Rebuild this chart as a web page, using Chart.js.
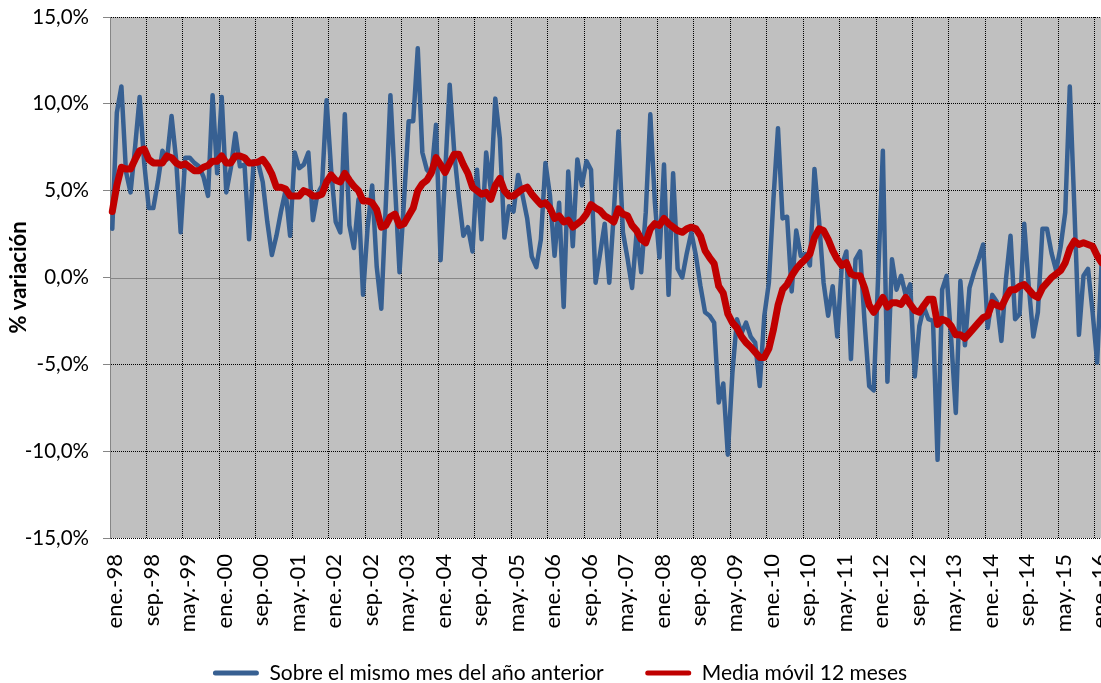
<!DOCTYPE html>
<html>
<head>
<meta charset="utf-8">
<script src="https://cdn.jsdelivr.net/npm/chart.js@4.4.1/dist/chart.umd.min.js"></script>
<style>
  html, body { margin: 0; padding: 0; background: #fff; overflow: hidden; }
  #wrap { width: 1101px; height: 683px; overflow: hidden; }
  #c { display: block; }
</style>
</head>
<body>
<div id="wrap"><canvas id="c" width="1112" height="683"></canvas></div>
<script>
// ---- Data ----
const monthNames = ['ene.', 'feb.', 'mar.', 'abr.', 'may.', 'jun.', 'jul.', 'ago.', 'sep.', 'oct.', 'nov.', 'dic.'];
const startYear = 1998;
const monthCount = 218; // ene.-98 .. feb.-16

const seriesNames = ['Sobre el mismo mes del año anterior', 'Media móvil 12 meses'];

const sobreMismoMes = [
  2.8, 9.5, 11.0, 6.1, 4.9, 7.5, 10.4, 6.6, 4.0, 4.0, 5.5, 7.3,
  6.8, 9.3, 6.8, 2.6, 6.9, 6.9, 6.6, 6.4, 5.8, 4.7, 10.5, 6.0,
  10.4, 4.9, 6.3, 8.3, 6.4, 6.5, 2.2, 6.7, 6.6, 5.5, 3.2, 1.3,
  2.4, 3.8, 5.0, 2.4, 7.2, 6.3, 6.5, 7.2, 3.3, 4.8, 5.3, 10.2,
  6.2, 3.2, 2.6, 9.4, 3.0, 1.7, 4.5, -1.0, 2.9, 5.3, 0.6, -1.8,
  4.3, 10.5, 5.3, 0.3, 4.5, 9.0, 9.0, 13.2, 7.2, 6.2, 5.9, 8.8,
  1.0, 6.0, 11.1, 7.2, 4.6, 2.4, 2.9, 1.5, 6.2, 2.2, 7.2, 5.1,
  10.3, 8.0, 2.3, 4.1, 3.8, 5.9, 4.7, 3.4, 1.2, 0.6, 2.2, 6.6,
  4.7, 1.25, 4.3, -1.7, 6.1, 1.8, 6.8, 5.3, 6.7, 6.2, -0.3, 1.4,
  3.1, -0.3, 3.75, 8.4, 2.6, 1.1, -0.6, 2.6, 0.3, 3.75, 9.4, 4.3,
  1.15, 6.5, -1.0, 6.0, 0.5, 0.0, 1.4, 2.6, 1.25, -0.5, -2.0, -2.2,
  -2.6, -7.2, -6.1, -10.2, -5.5, -2.4, -3.2, -2.6, -3.4, -3.75, -6.25, -2.2,
  -0.3, 4.5, 8.6, 3.4, 3.5, -0.8, 2.7, 1.25, 1.35, 0.7, 6.25, 3.3,
  -0.3, -2.2, -0.5, -3.4, 0.7, 1.5, -4.7, 1.05, 1.5, -2.6, -6.25, -6.5,
  0.3, 7.3, -6.0, 1.05, -0.7, 0.1, -1.0, -0.4, -5.7, -2.8, -1.7, -2.4,
  -2.5, -10.5, -0.7, 0.1, -3.6, -7.8, -0.2, -3.9, -0.6, 0.3, 1.05, 1.9,
  -2.9, -1.0, -1.4, -3.65, -0.1, 2.4, -2.4, -2.1, 3.1, -0.5, -3.4, -2.0,
  2.8, 2.8, 1.4, 0.4, 1.8, 3.75, 11.0, 4.0, -3.3, 0.1, 0.5, -2.0,
  -4.9, 1.0
];

const mediaMovil12 = [
  3.8, 5.3, 6.35, 6.25, 6.25, 6.8, 7.3, 7.4, 6.8, 6.6, 6.6, 6.6,
  7.0, 6.9, 6.6, 6.45, 6.55, 6.35, 6.15, 6.15, 6.35, 6.45, 6.7, 6.7,
  7.0, 6.6, 6.6, 7.0, 7.0, 6.9, 6.6, 6.6, 6.65, 6.8, 6.45, 5.95,
  5.2, 5.2, 5.1, 4.7, 4.7, 4.7, 5.0, 4.9, 4.7, 4.7, 4.8, 5.5,
  5.9, 5.6, 5.5, 6.0, 5.6, 5.25, 5.0, 4.4, 4.4, 4.3, 3.9, 2.9,
  3.0, 3.5, 3.65, 3.0, 3.1, 3.55, 4.0, 5.0, 5.4, 5.6, 6.05, 6.9,
  6.5, 6.05, 6.6, 7.1, 7.1, 6.5, 6.0, 5.2, 5.0, 4.8, 4.9, 4.5,
  5.3, 5.7, 5.0, 4.7, 4.7, 4.9, 5.1, 5.2, 4.8, 4.5, 4.2, 4.3,
  4.0, 3.4, 3.55, 3.2, 3.3, 2.9, 3.1, 3.3, 3.65, 4.2, 4.0, 3.85,
  3.55, 3.4, 3.2, 3.95, 3.65, 3.55, 3.0, 2.7, 2.2, 2.0, 2.8, 3.1,
  3.0, 3.4, 3.1, 2.9, 2.7, 2.6, 2.8, 2.9, 2.8, 2.4, 1.55, 1.15,
  0.8, -0.5, -0.9, -2.1, -2.6, -2.9, -3.4, -3.75, -4.0, -4.3, -4.6, -4.6,
  -4.1, -3.0, -1.6, -0.7, -0.4, 0.1, 0.5, 0.8, 1.05, 1.35, 2.3, 2.8,
  2.7, 2.2, 1.55, 1.05, 0.7, 0.85, 0.2, 0.1, 0.1, -0.6, -1.6, -2.0,
  -1.6, -1.15, -1.7, -1.45, -1.45, -1.55, -1.15, -1.55, -1.9, -2.0, -1.6, -1.25,
  -1.25, -2.7, -2.4, -2.5, -2.8, -3.3, -3.3, -3.5, -3.2, -2.9, -2.6, -2.3,
  -2.2, -1.45, -1.6, -1.7, -1.15, -0.7, -0.7, -0.5, -0.4, -0.7, -1.0, -1.15,
  -0.6, -0.3, 0.0, 0.2, 0.4, 0.85, 1.65, 2.1, 1.9, 2.0, 1.9, 1.8,
  1.25, 0.85
];

const yTicks = [-15, -10, -5, 0, 5, 10, 15];
const labelEvery = 8;

// categories: "ene.-98", "feb.-98", ...
const categories = [];
for (let i = 0; i < monthCount; i++) {
  const m = i % 12;
  const y = (startYear + Math.floor(i / 12)) % 100;
  categories.push(monthNames[m] + '-' + String(y).padStart(2, '0'));
}

const FONT = 'Lato, "Open Sans", "DejaVu Sans", sans-serif';
const LEGEND_FONT_SIZE = 21;
const LEGEND_PADDING = 41.5;

const plotBg = {
  id: 'plotBg',
  beforeDraw(chart) {
    const {ctx, chartArea: a} = chart;
    ctx.save();
    ctx.fillStyle = '#C0C0C0';
    ctx.fillRect(a.left, a.top, a.right - a.left, a.bottom - a.top);
    ctx.restore();
  },
  beforeDatasetsDraw(chart) {
    const {ctx, chartArea: a, scales: {y}} = chart;
    const py = Math.round(y.getPixelForValue(0)) + 0.5;
    ctx.save();
    ctx.strokeStyle = '#868686';
    ctx.lineWidth = 1.2;
    ctx.beginPath();
    ctx.moveTo(a.left, py);
    ctx.lineTo(a.right, py);
    ctx.stroke();
    ctx.restore();
  }
};

// places the legend row where the reference has it
const legendNudge = {
  id: 'legendNudge',
  afterLayout(chart) {
    const l = chart.legend;
    if (!l) return;
    const dx = 8;
    const rowCenter = 673;
    l.left += dx; l.right += dx;
    l.top = rowCenter - LEGEND_PADDING - LEGEND_FONT_SIZE / 2;
    l.bottom = chart.height;
    l.height = l.bottom - l.top;
  }
};

new Chart(document.getElementById('c'), {
  type: 'line',
  data: {
    labels: categories,
    datasets: [
      {
        label: seriesNames[0],
        data: sobreMismoMes,
        borderColor: '#376092',
        backgroundColor: '#376092',
        borderWidth: 4.5,
        pointRadius: 0,
        tension: 0,
        borderJoinStyle: 'round',
        borderCapStyle: 'round',
        order: 1
      },
      {
        label: seriesNames[1],
        data: mediaMovil12,
        borderColor: '#C00000',
        backgroundColor: '#C00000',
        borderWidth: 7,
        pointRadius: 0,
        tension: 0,
        borderJoinStyle: 'round',
        borderCapStyle: 'round',
        order: 0
      }
    ]
  },
  options: {
    responsive: false,
    animation: false,
    layout: { padding: { top: 17, right: 8, left: 0, bottom: 0 } },
    plugins: {
      legend: {
        position: 'bottom',
        maxHeight: 45,
        labels: {
          color: '#000',
          font: { family: FONT, size: LEGEND_FONT_SIZE },
          boxWidth: 46,
          boxHeight: 5,
          padding: LEGEND_PADDING,
          sort: (a, b) => a.datasetIndex - b.datasetIndex,
          generateLabels(chart) {
            const items = Chart.defaults.plugins.legend.labels.generateLabels(chart);
            items.forEach(it => { it.lineWidth = 0; it.borderRadius = 2.5; });
            return items;
          }
        }
      },
      tooltip: { enabled: false }
    },
    scales: {
      x: {
        type: 'category',
        offset: true,
        grid: {
          offset: true,
          drawTicks: false,
          lineWidth: 1,
          color: (ctx) => (ctx.index % labelEvery === 0 ? '#000' : 'rgba(0,0,0,0)')
        },
        border: { display: false, dash: [1, 1] },
        ticks: {
          autoSkip: false,
          minRotation: 90,
          maxRotation: 90,
          padding: 16,
          labelOffset: 3,
          color: '#000',
          font: { family: FONT, size: 22 },
          callback: function (value, index) {
            return index % labelEvery === 0 ? this.getLabelForValue(value) : '';
          }
        },
        afterFit(scale) {
          scale.height = 100;
          scale.paddingLeft = 0;
          scale.paddingRight = 0;
        }
      },
      y: {
        min: -15,
        max: 15,
        afterBuildTicks(scale) { scale.ticks = yTicks.map(v => ({ value: v })); },
        grid: {
          lineWidth: 1,
          color: (ctx) => (ctx.tick && ctx.tick.value === 0 ? 'rgba(0,0,0,0)' : '#000'),
          drawTicks: true,
          tickLength: 7,
          tickColor: '#868686',
          tickWidth: 1
        },
        border: { display: true, color: '#868686', width: 1, dash: [1, 1] },
        ticks: {
          padding: 14,
          color: '#000',
          font: { family: FONT, size: 20.5 },
          callback: (v) => v.toFixed(1).replace('.', ',') + '%'
        },
        title: {
          display: true,
          text: '% variación',
          color: '#000',
          font: { family: FONT, size: 22, weight: 'bold' },
          padding: { top: 6, bottom: 0 }
        },
        afterFit(scale) {
          scale.width = 110;
          scale.paddingTop = 0;
          scale.paddingBottom = 0;
        }
      }
    }
  },
  plugins: [plotBg, legendNudge]
});
</script>
</body>
</html>
